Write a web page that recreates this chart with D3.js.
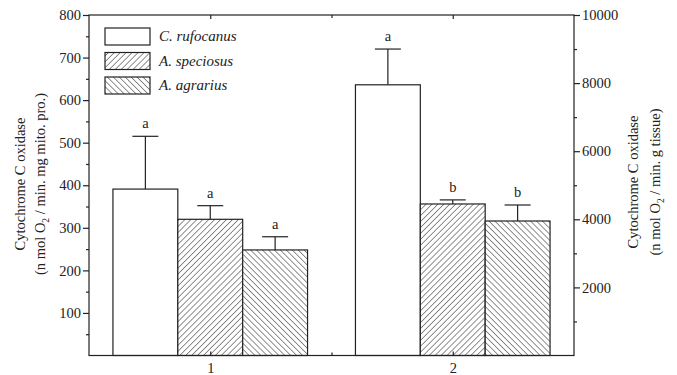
<!DOCTYPE html>
<html><head><meta charset="utf-8">
<script src="https://cdn.jsdelivr.net/npm/d3@7"></script>
<style>body{margin:0;background:#fff}svg{display:block}text{font-family:"Liberation Serif","DejaVu Serif",serif;fill:#222}</style>
</head><body><svg id="c" width="677" height="375"></svg>
<script>
const species = ["C. rufocanus", "A. speciosus", "A. agrarius"];
const groups = [1, 2];
// group 1 read on left axis (n mol O2 / min. mg mito. pro.)
const group1Values = [391, 320, 248];
const group1ErrTop = [515, 352, 279];
const group1Letters = ["a", "a", "a"];
// group 2 read on right axis (n mol O2 / min. g tissue)
const group2Values = [7950, 4450, 3950];
const group2ErrTop = [9000, 4570, 4420];
const group2Letters = ["a", "b", "b"];
const leftTicks = [100, 200, 300, 400, 500, 600, 700, 800];
const rightTicks = [2000, 4000, 6000, 8000, 10000];

const svg = d3.select("#c");
const L = 89, R = 574, T = 15, B = 355.5;
const FS = 14.5;
const x = d3.scaleLinear().domain([0.5, 2.5]).range([L, R]);
const yL = d3.scaleLinear().domain([0, 800]).range([B, T]);
const yR = d3.scaleLinear().domain([0, 10000]).range([B, T]);
const bw = 0.2675;

const defs = svg.append("defs");
function hatch(id, angle) {
  const p = defs.append("pattern").attr("id", id).attr("patternUnits", "userSpaceOnUse")
    .attr("width", 4.2).attr("height", 4.2).attr("patternTransform", `rotate(${angle})`);
  p.append("rect").attr("width", 4.2).attr("height", 4.2).attr("fill", "#fff");
  p.append("line").attr("x1", 0).attr("y1", 0).attr("x2", 0).attr("y2", 4.2)
    .attr("stroke", "#222").attr("stroke-width", 1);
}
hatch("h1", 45);
hatch("h2", -45);
const fills = ["#fff", "url(#h1)", "url(#h2)"];

// bars
const data = [];
groups.forEach((g, gi) => {
  const vals = gi === 0 ? group1Values : group2Values;
  const errs = gi === 0 ? group1ErrTop : group2ErrTop;
  const lets = gi === 0 ? group1Letters : group2Letters;
  const ys = gi === 0 ? yL : yR;
  species.forEach((s, si) => data.push({g, si, v: vals[si], e: errs[si], l: lets[si], ys}));
});
const bars = svg.append("g");
data.forEach(d => {
  const x0 = x(d.g + (d.si - 1.5) * bw), x1 = x(d.g + (d.si - 0.5) * bw);
  const cx = (x0 + x1) / 2;
  bars.append("line").attr("x1", cx).attr("x2", cx).attr("y1", d.ys(d.v)).attr("y2", d.ys(d.e))
    .attr("stroke", "#222").attr("stroke-width", 1.2);
  bars.append("line").attr("x1", cx - 13).attr("x2", cx + 13).attr("y1", d.ys(d.e)).attr("y2", d.ys(d.e))
    .attr("stroke", "#222").attr("stroke-width", 1.2);
  bars.append("rect").attr("x", x0).attr("y", d.ys(d.v)).attr("width", x1 - x0).attr("height", B - d.ys(d.v))
    .attr("fill", fills[d.si]).attr("stroke", "#222").attr("stroke-width", 1.2);
  bars.append("text").attr("x", cx).attr("y", d.ys(d.e) - 8).attr("text-anchor", "middle")
    .attr("font-size", FS).text(d.l);
});

// frame
svg.append("rect").attr("x", L).attr("y", T).attr("width", R - L).attr("height", B - T)
  .attr("fill", "none").attr("stroke", "#222").attr("stroke-width", 1.2);

function styleAxis(g) {
  g.select(".domain").remove();
  g.selectAll("text").attr("font-size", FS).attr("font-family", "Liberation Serif").attr("fill", "#222");
  g.selectAll("line").attr("stroke", "#222").attr("stroke-width", 1.2);
}
// left axis
styleAxis(svg.append("g").attr("transform", `translate(${L},0)`)
  .call(d3.axisLeft(yL).tickValues(leftTicks).tickSize(6).tickPadding(2)));
styleAxis(svg.append("g").attr("transform", `translate(${L},0)`)
  .call(d3.axisLeft(yL).tickValues(d3.range(50, 800, 100)).tickSize(3).tickFormat("")));

// right axis
styleAxis(svg.append("g").attr("transform", `translate(${R},0)`)
  .call(d3.axisRight(yR).tickValues(rightTicks).tickSize(6).tickPadding(2).tickFormat(d3.format("d"))));
styleAxis(svg.append("g").attr("transform", `translate(${R},0)`)
  .call(d3.axisRight(yR).tickValues(d3.range(1000, 10000, 2000)).tickSize(3).tickFormat("")));

// bottom / top axes
styleAxis(svg.append("g").attr("transform", `translate(0,${B})`)
  .call(d3.axisBottom(x).tickValues(groups).tickSize(-4).tickPadding(7).tickFormat(d3.format("d"))));
styleAxis(svg.append("g").attr("transform", `translate(0,${B})`)
  .call(d3.axisBottom(x).tickValues([1.5]).tickSize(-3).tickFormat("")));
styleAxis(svg.append("g").attr("transform", `translate(0,${T})`)
  .call(d3.axisTop(x).tickValues(groups).tickSize(-4).tickFormat("")));
styleAxis(svg.append("g").attr("transform", `translate(0,${T})`)
  .call(d3.axisTop(x).tickValues([1.5]).tickSize(-3).tickFormat("")));

// axis titles
function title(cx, cy, b1, b2, line1, pre, post) {
  const g = svg.append("g").attr("transform", `translate(${cx},${cy}) rotate(-90)`);
  g.append("text").attr("x", 0).attr("y", b1).attr("text-anchor", "middle").attr("font-size", FS).text(line1);
  const t = g.append("text").attr("x", 0).attr("y", b2).attr("text-anchor", "middle").attr("font-size", FS);
  t.append("tspan").text(pre);
  t.append("tspan").attr("font-size", 9.5).attr("dy", 4).text("2");
  t.append("tspan").attr("dy", -4).text(post);
}
title(30, 184, -5, 15, "Cytochrome C oxidase", "(n mol O", " / min. mg mito. pro.)");
title(644, 182, -6, 16, "Cytochrome C oxidase", "(n mol O", " / min. g tissue)");

// legend
const lg = svg.append("g");
species.forEach((s, i) => {
  const yy = 28 + i * 24.5;
  lg.append("rect").attr("x", 105).attr("y", yy).attr("width", 45).attr("height", 17)
    .attr("fill", fills[i]).attr("stroke", "#222").attr("stroke-width", 1.2);
  lg.append("text").attr("x", 159).attr("y", yy + 13).attr("font-size", 15).attr("font-style", "italic").text(s);
});
</script></body></html>
